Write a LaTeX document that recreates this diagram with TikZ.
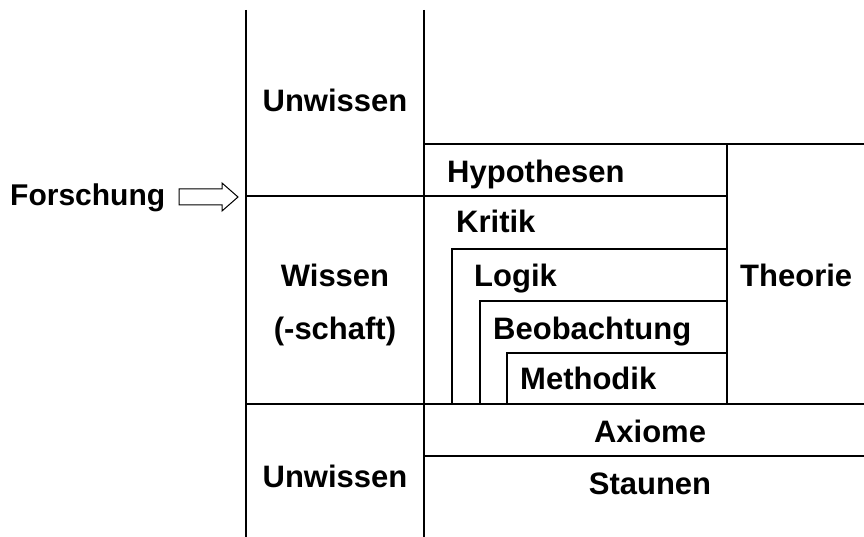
\documentclass[tikz,border=0pt]{standalone}
\usepackage{fontspec}
\setmainfont{Liberation Sans}
\begin{document}
\begin{tikzpicture}[x=1pt,y=-1pt,
  lbl/.style={inner sep=0pt,font=\fontsize{31}{31}\selectfont\bfseries},
  lw/.style={anchor=base west},
  lc/.style={anchor=base},
  rule/.style={line width=1.6pt,black}]
\useasboundingbox (0,0) rectangle (864,537);
% main grid
\draw[rule] (246,10) -- (246,537);
\draw[rule] (424,10) -- (424,537);
\draw[rule] (424,144) -- (864,144);
\draw[rule] (246,196) -- (727,196);
\draw[rule] (727,144) -- (727,404);
\draw[rule] (452,404) -- (452,249) -- (727,249);
\draw[rule] (480,404) -- (480,301) -- (727,301);
\draw[rule] (507,404) -- (507,353) -- (727,353);
\draw[rule] (246,404) -- (864,404);
\draw[rule] (424,456) -- (864,456);
% texts
\node[lbl,lc] (u1) at (335,112) {Unwissen};
\node[lbl,lw] (hyp) at (447,183) {Hypothesen};
\node[lbl,lw,font=\fontsize{30}{30}\selectfont\bfseries] (fo) at (10,206) {Forschung};
\node[lbl,lw] (kr) at (456,233) {Kritik};
\node[lbl,lc] (wi) at (335,287) {Wissen};
\node[lbl,lc] (sc) at (335,339) {(-schaft)};
\node[lbl,lw] (lo) at (474,287) {Logik};
\node[lbl,lw] (th) at (740,287) {Theorie};
\node[lbl,lw] (be) at (493,339) {Beobachtung};
\node[lbl,lw] (me) at (520,389) {Methodik};
\node[lbl,lc] (ax) at (650,442) {Axiome};
\node[lbl,lc] (u2) at (335,487) {Unwissen};
\node[lbl,lc] (st) at (650,494) {Staunen};
% block arrow
\coordinate (tip) at (238,197);
\draw[line width=1pt,fill=white] (179,189) -- (222,189) -- (222,183) -- (tip) -- (222,211) -- (222,205) -- (179,205) -- cycle;
\end{tikzpicture}
\end{document}
